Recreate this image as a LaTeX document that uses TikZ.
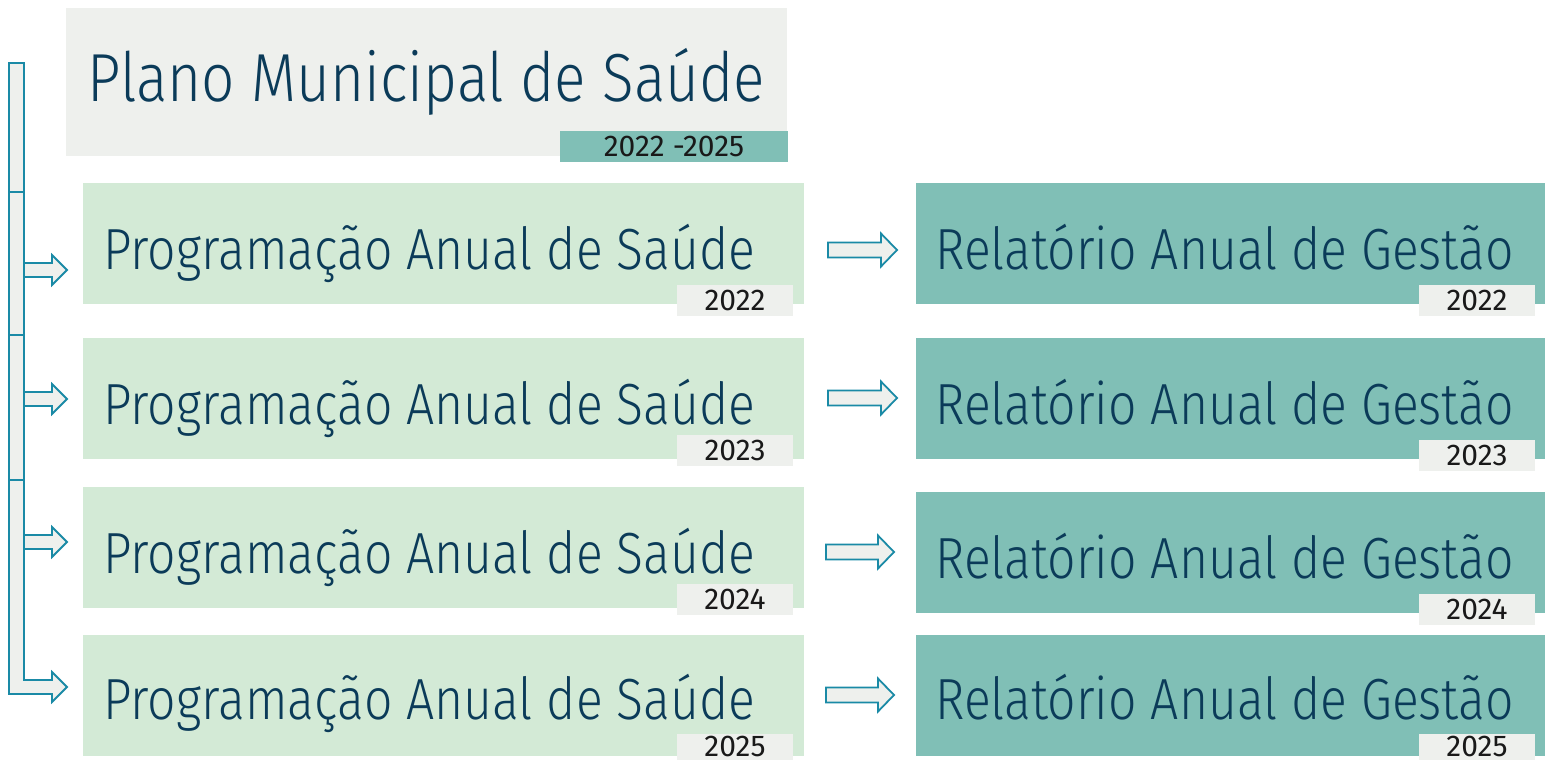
\documentclass[tikz,border=0pt]{standalone}
\usepackage{fontspec}
\setmainfont{Fira Sans Light}[FakeStretch=0.86]
\newfontfamily\anofonte{Fira Sans}
\usepackage{xcolor}
\usetikzlibrary{positioning,calc}

\definecolor{cinzaclaro}{HTML}{EEF0ED}
\definecolor{verdeclaro}{HTML}{D3EAD6}
\definecolor{verdeagua}{HTML}{80BFB6}
\definecolor{azultexto}{HTML}{0B3B59}
\definecolor{azulseta}{HTML}{1A8AA6}

\begin{document}
\begin{tikzpicture}[x=0.5pt,y=-0.5pt,
  caixa/.style={rectangle, inner sep=0pt, anchor=north west},
  titulo/.style={anchor=base west, inner sep=0pt, text=azultexto, font=\fontsize{29}{29}\selectfont},
  ano/.style={rectangle, fill=cinzaclaro, inner sep=0pt, minimum width=58pt, minimum height=15.5pt, text=black!90, font=\anofonte\fontsize{15}{15}\selectfont},
  seta/.style={draw=azulseta, fill=cinzaclaro, line width=0.9pt, line join=miter}]
\useasboundingbox (0,0) rectangle (1545,761);

% plano
\node[caixa, fill=cinzaclaro, minimum width=360.5pt, minimum height=74pt] (plano) at (66,8) {};
\node[titulo, font=\fontsize{34}{34}\selectfont] (planotxt) at (87,101) {Plano Municipal de Saúde};
\node[ano, fill=verdeagua, minimum width=114pt] (planoano) at (674,146) {2022 -2025};

% linhas anuais
\foreach \i/\ypas/\yrag/\base/\anoesq/\anodir/\ano in {1/183/183/86/300.5/300.5/2022, 2/338/338/86/450.5/455/2023, 3/487/492/86/599.5/609/2024, 4/635/635/84/746.5/746.5/2025}{
  \node[caixa, fill=verdeclaro, minimum width=360.5pt, minimum height=60.5pt] (pas\i) at (83,\ypas) {};
  \node[caixa, fill=verdeagua, minimum width=314.5pt, minimum height=60.5pt] (rag\i) at (916,\yrag) {};
  \node[titulo] (pastxt\i) at (103,\ypas+\base) {Programação Anual de Saúde};
  \node[titulo] (ragtxt\i) at (935,\yrag+\base) {Relatório Anual de Gestão};
  \ifnum\i=4
    \node[ano, minimum height=13pt] (pasano\i) at (735,\anoesq) {\ano};
    \node[ano, minimum height=13pt] (ragano\i) at (1477,\anodir) {\ano};
  \else
    \node[ano] (pasano\i) at (735,\anoesq) {\ano};
    \node[ano] (ragano\i) at (1477,\anodir) {\ano};
  \fi
}

% setas do meio
\foreach \ym/\xa/\xb in {250/828/897, 398/828/897, 552/826/894, 695/826/894}{
  \draw[seta] (\xa,\ym-7.5) -- (\xb-16,\ym-7.5) -- (\xb-16,\ym-16.5) -- (\xb,\ym)
    -- (\xb-16,\ym+16.5) -- (\xb-16,\ym+7.5) -- (\xa,\ym+7.5) -- cycle;
}

% chave da esquerda
\foreach \yl in {270,399,542}{
  \draw[seta] (24,\yl-7) -- (52,\yl-7) -- (52,\yl-15) -- (67,\yl) -- (52,\yl+15) -- (52,\yl+7) -- (24,\yl+7);
}
\draw[seta] (9,63) rectangle (24,192);
\draw[seta] (9,192) rectangle (24,335);
\draw[seta] (9,335) rectangle (24,480);
\draw[seta] (9,480) -- (24,480) -- (24,680) -- (52,680) -- (52,672) -- (67,687)
  -- (52,702) -- (52,694) -- (9,694) -- cycle;
\end{tikzpicture}
\end{document}
